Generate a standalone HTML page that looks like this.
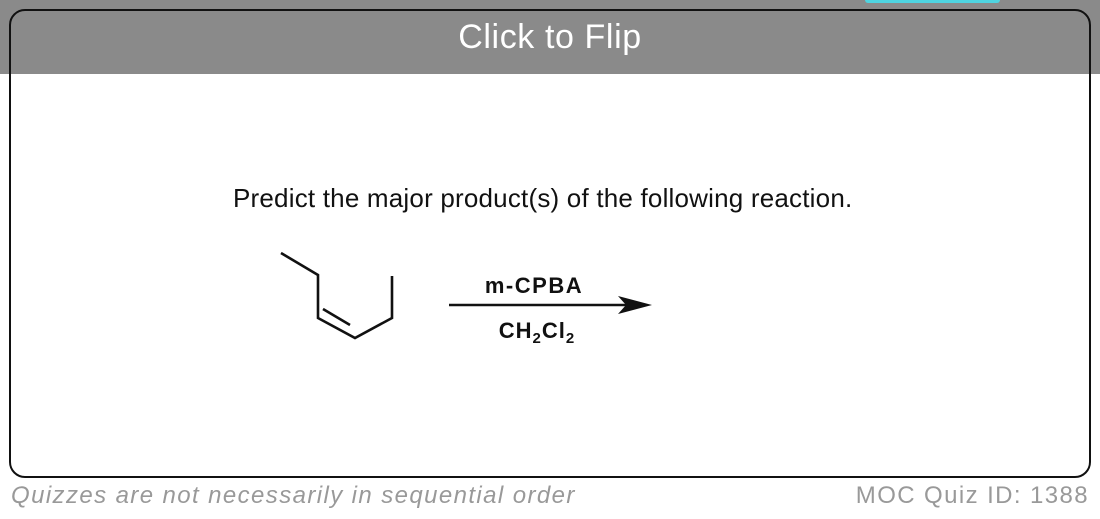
<!DOCTYPE html>
<html><head><style>
html,body{margin:0;padding:0;width:1100px;height:519px;background:#fff;overflow:hidden;position:relative;font-family:"Liberation Sans",sans-serif}
.bar{position:absolute;left:0;top:0;width:1100px;height:74px;background:#8a8a8a}
.card{position:absolute;left:9px;top:9px;border:2px solid #111;border-radius:16px;box-sizing:border-box;width:1082px;height:469px}
.teal{position:absolute;left:865px;top:0;width:135px;height:3px;background:#4fd4e0;border-radius:0 0 4px 4px}
.title{position:absolute;left:0;width:1100px;top:18px;text-align:center;color:#fff;font-size:34px;letter-spacing:0.6px}
.q{position:absolute;left:233px;top:183px;font-size:26px;color:#111;letter-spacing:0.2px;white-space:nowrap}
.foot{position:absolute;top:482px;font-size:24px;color:#999;white-space:nowrap}
</style></head><body>
<div class="bar"></div>
<div class="teal"></div>
<div class="card"></div>
<div class="title">Click to Flip</div>
<div class="q">Predict the major product(s) of the following reaction.</div>
<svg width="1100" height="519" style="position:absolute;left:0;top:0">
<polyline points="281,253 318,275 318,318 355,338 392,318 392,276" fill="none" stroke="#111" stroke-width="2.6"/>
<line x1="323" y1="309" x2="350" y2="325" stroke="#111" stroke-width="2.6"/>
<line x1="449" y1="305" x2="630" y2="305" stroke="#111" stroke-width="2.6"/>
<polygon points="652,305 618,296 626,305 618,314" fill="#111"/>
<text x="534" y="293" text-anchor="middle" font-family="Liberation Sans" font-weight="bold" font-size="22" letter-spacing="1.5" fill="#111">m-CPBA</text>
<text x="537" y="338" text-anchor="middle" font-family="Liberation Sans" font-weight="bold" font-size="22" letter-spacing="1" fill="#111">CH<tspan font-size="15" dy="5">2</tspan><tspan dy="-5">Cl</tspan><tspan font-size="15" dy="5">2</tspan></text>
</svg>
<div class="foot" style="left:11px;font-style:italic;letter-spacing:1.4px">Quizzes are not necessarily in sequential order</div>
<div class="foot" style="right:11px;letter-spacing:1.4px">MOC Quiz ID: 1388</div>
</body></html>
